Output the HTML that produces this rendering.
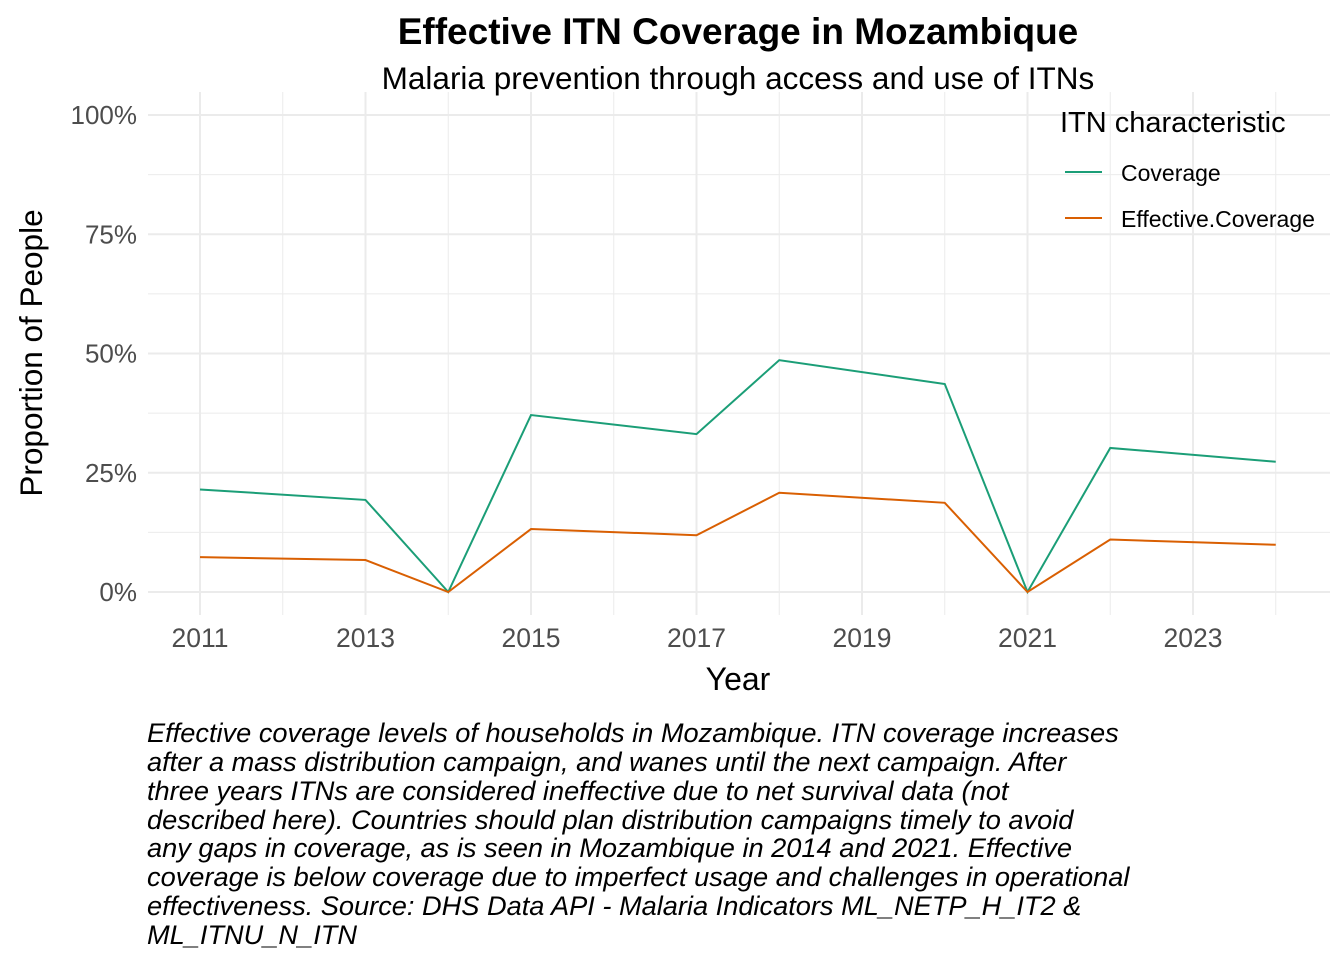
<!DOCTYPE html>
<html><head><meta charset="utf-8"><style>
body{margin:0;background:#fff;width:1344px;height:960px;overflow:hidden;font-family:"Liberation Sans",Arial,sans-serif}
</style></head><body>
<svg id="c" width="1344" height="960" xmlns="http://www.w3.org/2000/svg">
<text x="738" y="44" text-anchor="middle" font-size="37" font-weight="bold" fill="#000">Effective ITN Coverage in Mozambique</text>
<text x="738" y="89" text-anchor="middle" font-size="31.5" fill="#000">Malaria prevention through access and use of ITNs</text>
<g id="grid"></g><g id="series"></g><g id="ticks"></g>
<text x="738" y="690" text-anchor="middle" font-size="32" fill="#000">Year</text>
<text transform="translate(42,353) rotate(-90)" text-anchor="middle" font-size="31.5" fill="#000">Proportion of People</text>
<text x="1060" y="132" font-size="29" fill="#000">ITN characteristic</text>
<g><line x1="1065" x2="1102" y1="172" y2="172" stroke="#1b9e77" stroke-width="2"/><text x="1121" y="181" font-size="23" fill="#000">Coverage</text></g>
<g><line x1="1065" x2="1102" y1="218" y2="218" stroke="#d95f02" stroke-width="2"/><text x="1121" y="227" font-size="23" fill="#000">Effective.Coverage</text></g>
<text font-size="27.2" font-style="italic" fill="#000">
<tspan x="147" y="742">Effective coverage levels of households in Mozambique. ITN coverage increases</tspan>
<tspan x="147" y="771">after a mass distribution campaign, and wanes until the next campaign. After</tspan>
<tspan x="147" y="800">three years ITNs are considered ineffective due to net survival data (not</tspan>
<tspan x="147" y="829">described here). Countries should plan distribution campaigns timely to avoid</tspan>
<tspan x="147" y="857">any gaps in coverage, as is seen in Mozambique in 2014 and 2021. Effective</tspan>
<tspan x="147" y="886">coverage is below coverage due to imperfect usage and challenges in operational</tspan>
<tspan x="147" y="915">effectiveness. Source: DHS Data API - Malaria Indicators ML_NETP_H_IT2 &amp;</tspan>
<tspan x="147" y="944">ML_ITNU_N_ITN</tspan>
</text>
</svg>
<script>
const years=[2011,2013,2014,2015,2017,2018,2020,2021,2022,2024];
const coverage=[21.5,19.3,0,37.1,33.1,48.6,43.6,0,30.2,27.3];
const effective=[7.3,6.7,0,13.2,11.9,20.8,18.7,0,11.0,9.9];
const xTicks=[2011,2013,2015,2017,2019,2021,2023];
const yTicks=[0,25,50,75,100];
const yLabels=["0%","25%","50%","75%","100%"];
const NS="http://www.w3.org/2000/svg";
const X=y=>200+(y-2011)*82.75;
const Y=v=>592-v*4.77;
const L=148,R=1330,T=92,B=615;
function mk(t,a,p){const e=document.createElementNS(NS,t);for(const k in a)e.setAttribute(k,a[k]);p.appendChild(e);return e;}
const g=document.getElementById('grid'),s=document.getElementById('series'),tk=document.getElementById('ticks');
for(let v=-12.5;v<=100;v+=12.5){if(Y(v)>B||Y(v)<T)continue;const major=v%25===0;
const ln=mk('line',{x1:L,x2:R,y1:Y(v),y2:Y(v),stroke:'#ebebeb','stroke-width':major?2:1},g);

}
for(let yr=2011;yr<=2024;yr+=1){const major=(yr-2011)%2===0;
const ln=mk('line',{x1:X(yr),x2:X(yr),y1:T,y2:B,stroke:'#ebebeb','stroke-width':major?2:1},g);

}
xTicks.forEach(t=>{const e=mk('text',{x:X(t),y:647,'text-anchor':'middle','font-size':26.5,fill:'#4d4d4d'},tk);e.textContent=t;

});
yTicks.forEach((t,i)=>{const e=mk('text',{x:137,y:Y(t)+9,'text-anchor':'end','font-size':26,fill:'#4d4d4d'},tk);e.textContent=yLabels[i];

});
function line(vals,col,name){const p=mk('polyline',{points:years.map((y,i)=>X(y)+','+Y(vals[i])).join(' '),fill:'none',stroke:col,'stroke-width':2},s);

}
line(coverage,'#1b9e77','coverage-line');
line(effective,'#d95f02','effective-coverage-line');
</script>
</body></html>
